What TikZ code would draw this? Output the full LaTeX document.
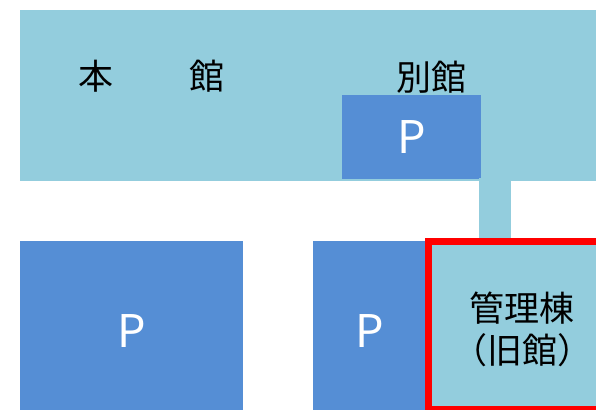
\documentclass[tikz,border=0pt]{standalone}
\usepackage{fontspec}
\setmainfont{Noto Sans CJK JP}
\definecolor{bldg}{HTML}{93CDDD}
\definecolor{park}{HTML}{558ED5}
\definecolor{mark}{HTML}{FF0000}
\begin{document}
\begin{tikzpicture}[x=1pt,y=-1pt,
  box/.style={anchor=north west,inner sep=0pt,outer sep=0pt},
  bldgbox/.style={box,fill=bldg},
  parkbox/.style={box,fill=park},
  jp/.style={font=\fontsize{35}{42}\selectfont,text=black,inner sep=0pt,align=center},
  ptext/.style={font=\fontsize{45}{50}\selectfont,text=white,inner sep=0pt},
  link/.style={draw=bldg,line width=32pt}]
\useasboundingbox (0,0) rectangle (596,409);
% main building
\node[bldgbox,minimum width=576pt,minimum height=171pt] (main) at (20,10) {};
\node[jp] (hon) at (95.5,76) {本};
\node[jp] (kan) at (207,76) {館};
\node[jp] (bekkan) at (431,77) {別館};
% top parking
\node[parkbox,minimum width=139pt,minimum height=84pt] (ptop) at (342,95) {};
\node[ptext] at (ptop.center) {P};
% connector
\coordinate (c1) at (495,178);
\coordinate (c2) at (495,242);
\draw[link] (c1) -- (c2);
% bottom parkings
\node[parkbox,minimum width=223pt,minimum height=170pt] (pleft) at (20,241) {};
\node[ptext] at ([yshift=-5pt]pleft.center) {P};
\node[parkbox,minimum width=113pt,minimum height=170pt] (pmid) at (313,241) {};
\node[ptext] at ([yshift=-5pt]pmid.center) {P};
% management building
\node[box,fill=bldg,draw=mark,line width=7pt,minimum width=175pt,minimum height=168pt] (kanri) at (428,241) {};
\node[jp] (kanrilabel) at (522,329) {管理棟\\（旧館）};
\end{tikzpicture}
\end{document}
